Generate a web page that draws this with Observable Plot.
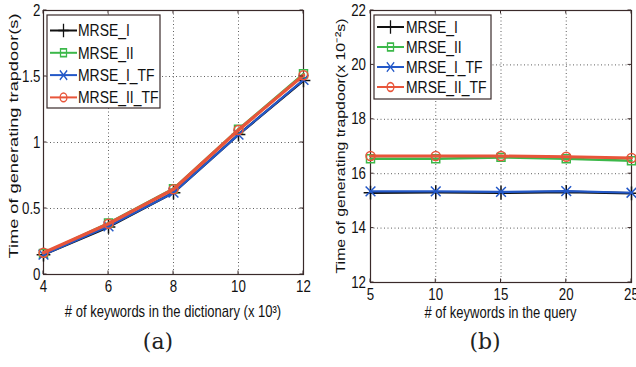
<!DOCTYPE html>
<html>
<head>
<meta charset="utf-8">
<script src="https://cdn.jsdelivr.net/npm/d3@7"></script>
<script src="https://cdn.jsdelivr.net/npm/@observablehq/plot@0.6"></script>
<style>
  html, body { margin: 0; padding: 0; background: #fff; }
  #wrap { position: relative; width: 636px; height: 367px; overflow: hidden; }
  .panel { position: absolute; top: 0; }
  .cap { position: absolute; font-family: "DejaVu Serif", serif; font-size: 22px; color: #222; transform: translateX(-50%); }
  svg text { font-family: "Liberation Sans", Arial, sans-serif; }
</style>
</head>
<body>
<div id="wrap">
  <div class="panel" id="pa" style="left:0px"></div>
  <div class="panel" id="pb" style="left:316px"></div>
  <div class="cap" style="left:158px; top:329px">(a)</div>
  <div class="cap" style="left:485px; top:329px">(b)</div>
</div>
<script>
// ---- data ----
const seriesNames = ["MRSE_I", "MRSE_II", "MRSE_I_TF", "MRSE_II_TF"];
const seriesColors = ["#111111", "#3cb84a", "#2358c8", "#e8553a"];
const seriesSymbols = ["plus", "square", "times", "circle"];

// (a) trapdoor time vs dictionary size
const dictSizes = [4, 6, 8, 10, 12];           // x 10^3
const aMRSE_I     = [0.15, 0.36, 0.62, 1.06, 1.47];
const aMRSE_II    = [0.16, 0.39, 0.65, 1.10, 1.52];
const aMRSE_I_TF  = [0.15, 0.365, 0.62, 1.06, 1.475];
const aMRSE_II_TF = [0.165, 0.385, 0.645, 1.095, 1.51];
const aTicksX = [4, 6, 8, 10, 12];
const aTicksY = [0, 0.5, 1, 1.5, 2];

// (b) trapdoor time vs keywords in query
const queryKeywords = [5, 10, 15, 20, 25];
const bMRSE_I     = [15.30, 15.32, 15.30, 15.33, 15.28];
const bMRSE_II    = [16.55, 16.55, 16.60, 16.55, 16.48];
const bMRSE_I_TF  = [15.35, 15.35, 15.33, 15.36, 15.30];
const bMRSE_II_TF = [16.65, 16.65, 16.65, 16.62, 16.58];
const bTicksX = [5, 10, 15, 20, 25];
const bTicksY = [12, 14, 16, 18, 20, 22];

function tidy(xs, arrays) {
  const out = [];
  arrays.forEach((arr, si) => arr.forEach((v, i) => out.push({x: xs[i], y: v, s: seriesNames[si]})));
  return out;
}
const dataA = tidy(dictSizes, [aMRSE_I, aMRSE_II, aMRSE_I_TF, aMRSE_II_TF]);
const dataB = tidy(queryKeywords, [bMRSE_I, bMRSE_II, bMRSE_I_TF, bMRSE_II_TF]);

const widthsA = [2.5, 2.5, 2.2, 3.4];
const widthsB = [2.6, 2.5, 2.2, 3.0];
const SQUEEZE = 0.83;   // horizontal condensation of the (vertically stretched) original figure

function squeeze(textNode, k) {
  const len = textNode.getComputedTextLength();
  if (len > 0) {
    textNode.setAttribute("textLength", len * k);
    textNode.setAttribute("lengthAdjust", "spacingAndGlyphs");
  }
}

function makePlot(opts) {
  const {data, width, height, margins, xDomain, yDomain, xTicks, yTicks, lw, yPad} = opts;
  const marks = [
    Plot.gridX(xTicks, {stroke: "#444", strokeOpacity: 0.85, strokeDasharray: "1,2.5", strokeWidth: 1}),
    Plot.gridY(yTicks, {stroke: "#444", strokeOpacity: 0.85, strokeDasharray: "1,2.5", strokeWidth: 1}),
    Plot.frame({stroke: "#3a2a2a", strokeWidth: 1.2}),
    Plot.axisX(xTicks, {tickSize: 0, tickPadding: 6, fontSize: 16, fill: "#111", label: null, tickFormat: d => String(d)}),
    Plot.axisY(yTicks, {tickSize: 0, tickPadding: yPad, fontSize: 16, fill: "#111", label: null, tickFormat: d => String(d)})
  ];
  seriesNames.forEach((name, si) => {
    const sub = data.filter(d => d.s === name);
    marks.push(Plot.line(sub, {x: "x", y: "y", stroke: seriesColors[si], strokeWidth: lw[si]}));
    marks.push(Plot.dot(sub, {x: "x", y: "y", stroke: seriesColors[si], symbol: seriesSymbols[si], r: 4.5, strokeWidth: 1.5, fill: "none"}));
  });
  return Plot.plot({
    width, height,
    marginLeft: margins[0], marginRight: margins[1], marginTop: margins[2], marginBottom: margins[3],
    x: {domain: xDomain},
    y: {domain: yDomain},
    style: {fontSize: "16px", background: "transparent", overflow: "visible"},
    marks
  });
}

function addInwardTicks(chart, xTicks, yTicks) {
  const svg = d3.select(chart);
  const x = chart.scale("x"), y = chart.scale("y");
  const [x0, x1] = x.range, [y0, y1] = y.range; // y0 bottom, y1 top
  const g = svg.append("g").attr("stroke", "#3a2a2a").attr("stroke-width", 1);
  xTicks.forEach(v => {
    const px = x.apply(v);
    g.append("line").attr("x1", px).attr("x2", px).attr("y1", y0).attr("y2", y0 - 3.5);
    g.append("line").attr("x1", px).attr("x2", px).attr("y1", y1).attr("y2", y1 + 3.5);
  });
  yTicks.forEach(v => {
    const py = y.apply(v);
    g.append("line").attr("x1", x0).attr("x2", x0 + 3.5).attr("y1", py).attr("y2", py);
    g.append("line").attr("x1", x1).attr("x2", x1 - 3.5).attr("y1", py).attr("y2", py);
  });
}

function addLabels(chart, xLabel, yLabel, xLabelY, yLabelX, yLabelCY, yLabelLen) {
  const svg = d3.select(chart);
  const x = chart.scale("x");
  const cx = (x.range[0] + x.range[1]) / 2;
  const xl = svg.append("text").attr("x", cx).attr("y", xLabelY)
    .attr("text-anchor", "middle").attr("dy", "0.36em")
    .attr("font-size", 15.7).attr("fill", "#111").text(xLabel);
  squeeze(xl.node(), SQUEEZE);
  const yl = svg.append("text").attr("text-anchor", "middle").attr("dy", "0.36em")
    .attr("font-size", 13.6).attr("fill", "#111").text(yLabel)
    .attr("transform", `translate(${yLabelX},${yLabelCY}) rotate(-90)`);
  yl.attr("textLength", yLabelLen).attr("lengthAdjust", "spacingAndGlyphs");
}

function addLegend(chart, box) {
  const svg = d3.select(chart);
  const g = svg.append("g").attr("text-anchor", "start");
  g.append("rect").attr("x", box.x).attr("y", box.y).attr("width", box.w).attr("height", box.h)
    .attr("fill", "#fff").attr("stroke", "#3a2a2a").attr("stroke-width", 1.2);
  seriesNames.forEach((name, i) => {
    const cy = box.y + box.first + i * box.step;
    g.append("line").attr("x1", box.x + box.l1).attr("x2", box.x + box.l2).attr("y1", cy).attr("y2", cy)
      .attr("stroke", seriesColors[i]).attr("stroke-width", 2);
    const sym = d3.symbol().type({plus: d3.symbolPlus, square: d3.symbolSquare, times: d3.symbolTimes, circle: d3.symbolCircle}[seriesSymbols[i]]).size(50);
    g.append("path").attr("d", sym()).attr("transform", `translate(${box.x + (box.l1 + box.l2) / 2},${cy}) scale(0.85,1.1)`)
      .attr("fill", "none").attr("stroke", seriesColors[i]).attr("stroke-width", 1.5);
    const t = g.append("text").attr("x", box.x + box.tx).attr("y", cy).attr("dy", "0.36em")
      .attr("font-size", 16).attr("fill", "#111").text(name);
    squeeze(t.node(), 0.87);
  });
}

function build(host, opts, legendBox, labels) {
  const chart = makePlot(opts);
  host.appendChild(chart);
  chart.querySelectorAll('g[aria-label$="tick label"] text').forEach(t => squeeze(t, SQUEEZE));
  addInwardTicks(chart, opts.xTicks, opts.yTicks);
  addLegend(chart, legendBox);
  addLabels(chart, ...labels);
}

build(document.getElementById("pa"), {
  data: dataA, width: 316, height: 325, margins: [43, 13, 10, 51],
  xDomain: [4, 12], yDomain: [0, 2], xTicks: aTicksX, yTicks: aTicksY, lw: widthsA, yPad: 3
}, {x: 47, y: 15, w: 113, h: 93, first: 15.5, step: 22.3, l1: 3, l2: 30, tx: 31},
["# of keywords in the dictionary (x 10³)", "Time of generating trapdoor(s)", 311, 13, 136, 245]);

build(document.getElementById("pb"), {
  data: dataB, width: 320, height: 325, margins: [54, 5, 10, 43],
  xDomain: [5, 25], yDomain: [12, 22], xTicks: bTicksX, yTicks: bTicksY, lw: widthsB, yPad: 4.5
}, {x: 58, y: 15, w: 117, h: 84, first: 12, step: 20, l1: 3, l2: 30, tx: 32},
["# of keywords in the query", "Time of generating trapdoor(x 10⁻²s)", 312, 24, 146, 255]);
</script>
</body>
</html>
